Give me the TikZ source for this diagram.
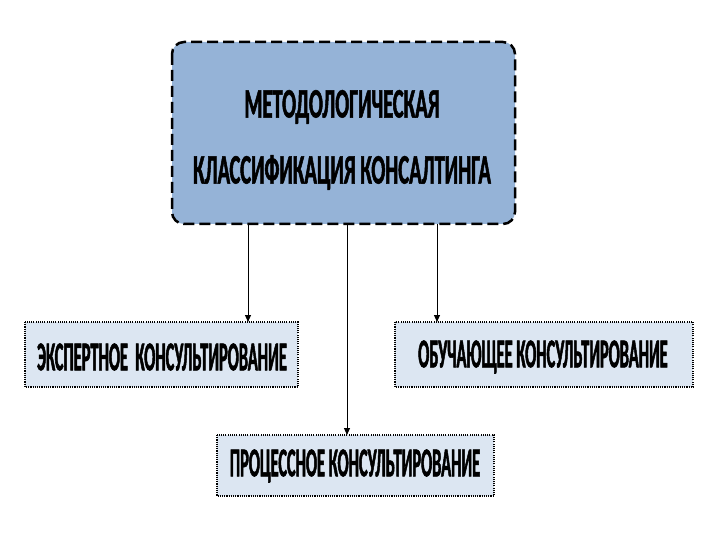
\documentclass[tikz,border=0pt]{standalone}
\usepackage{fontspec}
\newfontfamily\condA[FakeStretch=0.49,FakeBold=1.2]{Carlito}
\newfontfamily\condB[FakeStretch=0.40,FakeBold=1.2]{Carlito}
\usetikzlibrary{arrows.meta}
\definecolor{mainfill}{HTML}{95B3D7}
\definecolor{subfill}{HTML}{DCE6F2}
\tikzset{
  mainbox/.style={draw=black, fill=mainfill, line width=2.5pt, rounded corners=12pt,
    dash pattern=on 11pt off 5pt},
  subbox/.style={draw=black, fill=subfill, line width=1.6pt, dash pattern=on 1.1pt off 1.1pt},
  toplbl/.style={inner sep=0pt, align=center, font=\condA\bfseries\fontsize{42}{66}\selectfont},
  sublbl/.style={inner sep=0pt, align=center, font=\condB\bfseries\fontsize{41}{44}\selectfont},
  conn/.style={draw=black, line width=1pt, -{Triangle[length=7pt,width=6pt]}}
}
\begin{document}
\begin{tikzpicture}[x=1pt,y=-1pt]
\useasboundingbox (0,0) rectangle (720,540);
\draw[mainbox] (172,42) rectangle (515,224);
\node[toplbl] (main) at (342,140) {МЕТОДОЛОГИЧЕСКАЯ\\КЛАССИФИКАЦИЯ КОНСАЛТИНГА};
\draw[subbox] (25,322) rectangle (298,387);
\node[sublbl] (exp) at (162,357) {ЭКСПЕРТНОЕ\ \ КОНСУЛЬТИРОВАНИЕ};
\draw[subbox] (395,322) rectangle (693,387);
\node[sublbl] (obu) at (543,357) {ОБУЧАЮЩЕЕ КОНСУЛЬТИРОВАНИЕ};
\draw[subbox] (217,435) rectangle (494,496);
\node[sublbl] (pro) at (355,466) {ПРОЦЕССНОЕ КОНСУЛЬТИРОВАНИЕ};
\coordinate (a1s) at (248,224);
\coordinate (a1e) at (248,322);
\coordinate (a2s) at (347,224);
\coordinate (a2e) at (347,435);
\coordinate (a3s) at (437,224);
\coordinate (a3e) at (437,322);
\draw[conn] (a1s) -- (a1e);
\draw[conn] (a2s) -- (a2e);
\draw[conn] (a3s) -- (a3e);
\end{tikzpicture}
\end{document}
